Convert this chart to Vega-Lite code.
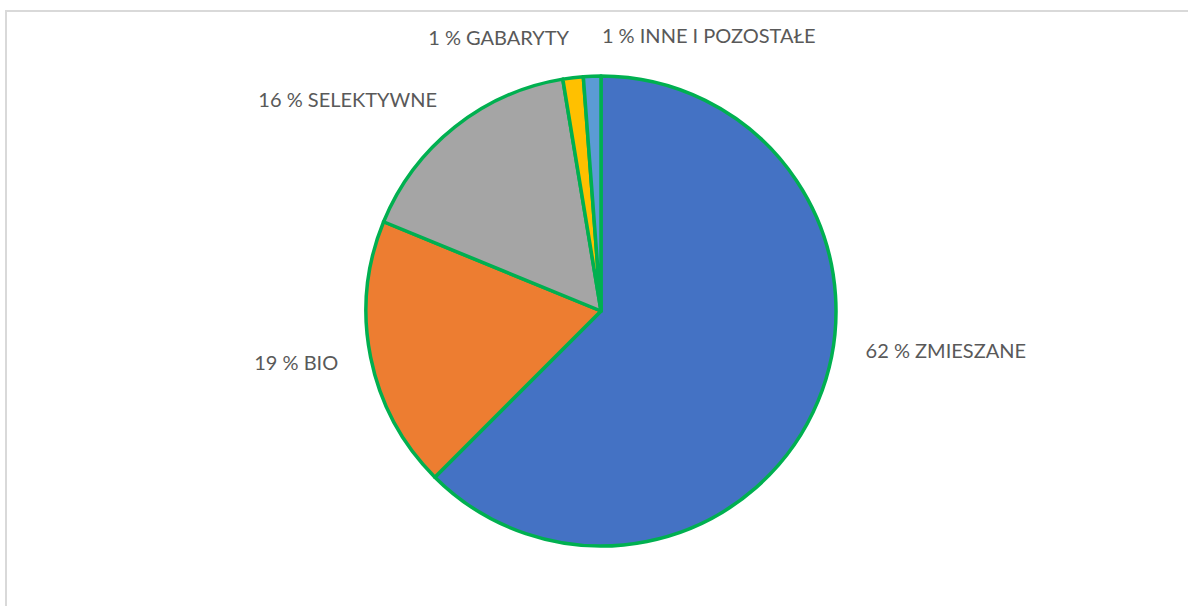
{
  "$schema": "https://vega.github.io/schema/vega-lite/v6.json",
  "width": 1190,
  "height": 600,
  "autosize": {"type": "none"},
  "padding": {"left": 6, "top": 11, "right": 0, "bottom": 0},
  "background": "white",
  "view": {"stroke": "#D9D9D9", "strokeWidth": 2, "fill": "white"},
  "data": {
    "values": [
      {"kategoria": "ZMIESZANE", "wartosc": 62.5, "kolejnosc": 1, "etykieta": "62 % ZMIESZANE"},
      {"kategoria": "BIO", "wartosc": 18.7, "kolejnosc": 2, "etykieta": "19 % BIO"},
      {"kategoria": "SELEKTYWNE", "wartosc": 16.2, "kolejnosc": 3, "etykieta": "16 % SELEKTYWNE"},
      {"kategoria": "GABARYTY", "wartosc": 1.4, "kolejnosc": 4, "etykieta": "1 % GABARYTY"},
      {"kategoria": "INNE I POZOSTAŁE", "wartosc": 1.2, "kolejnosc": 5, "etykieta": "1 % INNE I POZOSTAŁE"}
    ]
  },
  "transform": [
    {"stack": "wartosc", "groupby": [], "sort": [{"field": "kolejnosc", "order": "ascending"}], "as": ["v0", "v1"]},
    {"calculate": "(datum.v0 + datum.v1) / 2", "as": "srodek"}
  ],
  "layer": [
    {
      "mark": {"type": "arc", "radius": 235, "stroke": "#00B050", "strokeWidth": 3.5, "strokeJoin": "round"},
      "encoding": {
        "theta": {"field": "v0", "type": "quantitative", "scale": {"domain": [0, 100], "zero": true, "nice": false}},
        "theta2": {"field": "v1"},
        "color": {
          "field": "kategoria",
          "type": "nominal",
          "scale": {
            "domain": ["ZMIESZANE", "BIO", "SELEKTYWNE", "GABARYTY", "INNE I POZOSTAŁE"],
            "range": ["#4472C4", "#ED7D31", "#A5A5A5", "#FFC000", "#5B9BD5"]
          },
          "legend": null
        }
      }
    },
    {
      "mark": {
        "type": "text",
        "radius": 268,
        "font": "Lato",
        "fontSize": 20,
        "fill": "#595959",
        "baseline": "middle",
        "align": {"expr": "datum.srodek > 50 && datum.srodek < 99 ? 'right' : 'left'"},
        "dx": {"expr": "datum.srodek > 99 ? 11 : (datum.srodek < 50 ? 17 : (datum.srodek > 85 && datum.srodek < 95 ? 3 : 0))"},
        "dy": {"expr": "datum.srodek < 50 ? -62 : (datum.srodek > 95 ? -6 : 0)"}
      },
      "encoding": {
        "theta": {"field": "srodek", "type": "quantitative"},
        "text": {"field": "etykieta", "type": "nominal"}
      }
    }
  ]
}
